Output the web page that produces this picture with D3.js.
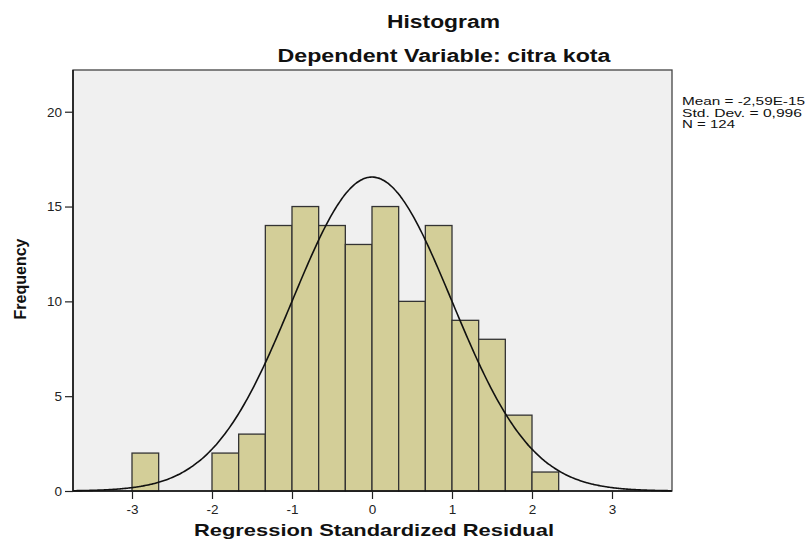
<!DOCTYPE html>
<html>
<head>
<meta charset="utf-8">
<script src="https://cdn.jsdelivr.net/npm/d3@7"></script>
<style>
  html, body { margin: 0; padding: 0; background: #fff; }
  svg { display: block; font-family: "Liberation Sans", Arial, sans-serif; }
</style>
</head>
<body>
<svg id="chart" width="806" height="543"></svg>
<script>
// ---- Data ----
const binStarts = [-3, -2, -1.6667, -1.3333, -1, -0.6667, -0.3333, 0, 0.3333, 0.6667, 1, 1.3333, 1.6667, 2];
const binWidth = 1 / 3;
const counts = [2, 2, 3, 14, 15, 14, 13, 15, 10, 14, 9, 8, 4, 1];
const xTicks = [-3, -2, -1, 0, 1, 2, 3];
const yTicks = [0, 5, 10, 15, 20];
const statLabels = ["Mean = -2,59E-15", "Std. Dev. = 0,996", "N = 124"];
const statMean = -2.59e-15, statSd = 0.996, statN = 124;
const titleLines = ["Histogram", "Dependent Variable: citra kota"];
const xTitle = "Regression Standardized Residual";
const yTitle = "Frequency";

// ---- Layout ----
const plot = { left: 73, right: 672, top: 70, bottom: 491 };
const svg = d3.select("#chart");

const x = d3.scaleLinear().domain([-3.7375, 3.75]).range([plot.left, plot.right]);
const y = d3.scaleLinear().domain([0, 22.2]).range([plot.bottom, plot.top]);

// plot background
svg.append("rect")
  .attr("x", plot.left).attr("y", plot.top)
  .attr("width", plot.right - plot.left).attr("height", plot.bottom - plot.top)
  .attr("fill", "#f0f0f0").attr("stroke", "#444").attr("stroke-width", 1.3);

// bars
svg.append("g").selectAll("rect")
  .data(counts.map((c, i) => ({ x0: binStarts[i], x1: binStarts[i] + binWidth, c })))
  .join("rect")
  .attr("x", d => x(d.x0))
  .attr("y", d => y(d.c))
  .attr("width", d => x(d.x1) - x(d.x0))
  .attr("height", d => y(0) - y(d.c))
  .attr("fill", "#d3ce98")
  .attr("stroke", "#333")
  .attr("stroke-width", 1.3);

// normal curve from the reported statistics
const pdf = v => Math.exp(-0.5 * Math.pow((v - statMean) / statSd, 2)) / (statSd * Math.sqrt(2 * Math.PI));
const xs = d3.range(x.domain()[0], x.domain()[1] + 0.001, 0.02);
svg.append("path")
  .datum(xs)
  .attr("fill", "none")
  .attr("stroke", "#111")
  .attr("stroke-width", 1.6)
  .attr("d", d3.line().x(d => x(d)).y(d => y(statN * binWidth * pdf(d))).curve(d3.curveBasis));

// axes
const xAxis = svg.append("g")
  .attr("transform", `translate(0,${plot.bottom})`)
  .call(d3.axisBottom(x).tickValues(xTicks).tickSize(8).tickPadding(5).tickFormat(d3.format("d")));
xAxis.select(".domain").attr("stroke", "#111").attr("stroke-width", 1.5)
  .attr("d", `M${plot.left},0H${plot.right}`);
xAxis.selectAll(".tick line").attr("stroke", "#222").attr("stroke-width", 1.2);
xAxis.selectAll(".tick text").attr("font-size", 13.5).attr("fill", "#222")
  .text(d => d < 0 ? "-" + Math.abs(d) : d);

const yAxis = svg.append("g")
  .attr("transform", `translate(${plot.left},0)`)
  .call(d3.axisLeft(y).tickValues(yTicks).tickSize(8).tickPadding(3).tickFormat(d3.format("d")));
yAxis.select(".domain").attr("stroke", "#111").attr("stroke-width", 1.5)
  .attr("d", `M0,${plot.top}V${plot.bottom}`);
yAxis.selectAll(".tick line").attr("stroke", "#222").attr("stroke-width", 1.2);
yAxis.selectAll(".tick text").attr("font-size", 13.5).attr("fill", "#222");

// titles (stretched to the reference's wide glyphs)
function stretchedText(px, py, txt, size, len, anchor) {
  return svg.append("text").attr("x", px).attr("y", py).attr("text-anchor", anchor || "middle")
    .attr("font-size", size).attr("font-weight", "bold").attr("fill", "#111")
    .attr("textLength", len).attr("lengthAdjust", "spacingAndGlyphs").text(txt);
}
stretchedText(443.5, 28, titleLines[0], 18, 113);
stretchedText(444, 62, titleLines[1], 18, 333);
stretchedText(374, 536, xTitle, 17, 360);

svg.append("text").attr("transform", "translate(26,279) rotate(-90)").attr("text-anchor", "middle")
  .attr("font-size", 16).attr("font-weight", "bold").attr("fill", "#111").text(yTitle);

// statistics legend
const statLens = [123, 120, 53];
svg.append("g").selectAll("text").data(statLabels).join("text")
  .attr("x", 682).attr("y", (d, i) => 105 + i * 11.5)
  .attr("font-size", 10.5).attr("fill", "#111")
  .attr("textLength", (d, i) => statLens[i]).attr("lengthAdjust", "spacingAndGlyphs")
  .text(d => d);
</script>
</body>
</html>
